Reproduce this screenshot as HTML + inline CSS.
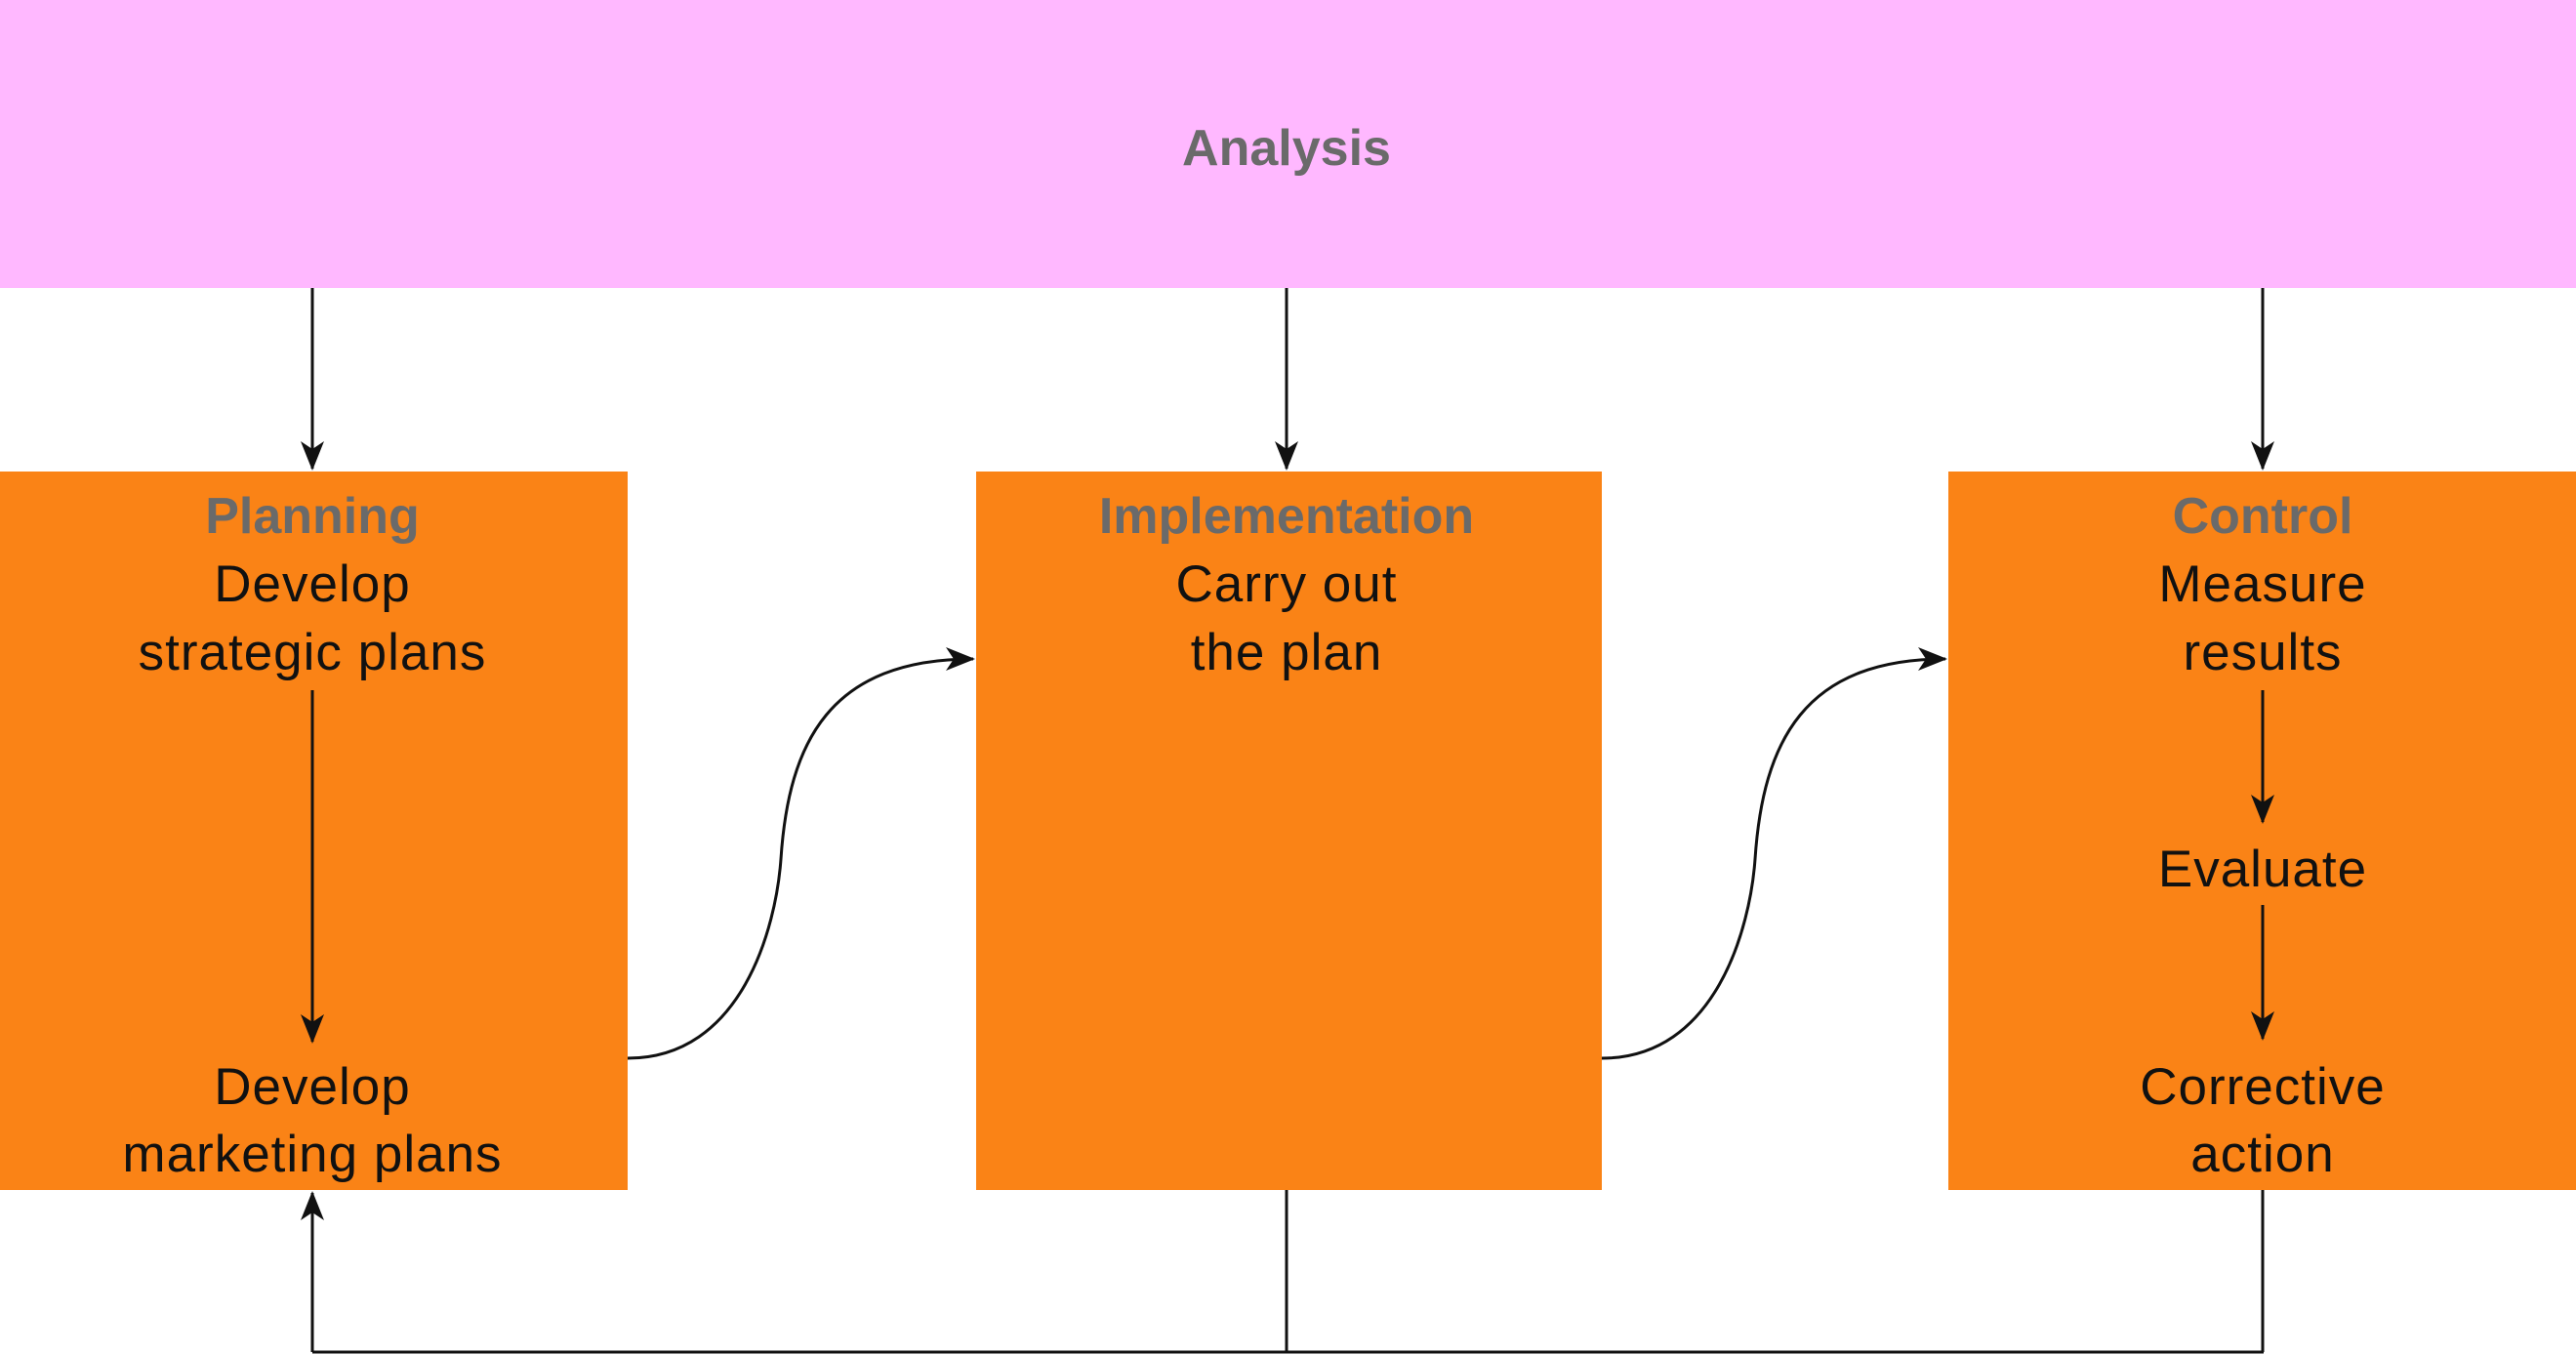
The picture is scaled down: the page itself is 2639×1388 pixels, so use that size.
<!DOCTYPE html>
<html><head><meta charset="utf-8"><style>
html,body{margin:0;padding:0;background:#fff;}
svg{display:block}
text{font-family:"Liberation Sans",sans-serif;text-anchor:middle;}
.t{font-weight:bold;fill:#6a6a6a;font-size:52px}
.b{fill:#111;font-size:53px;letter-spacing:1px}
</style></head><body>
<svg width="2639" height="1388" viewBox="0 0 2639 1388" xmlns="http://www.w3.org/2000/svg">
<defs>
<marker id="a2" markerWidth="30" markerHeight="24" refX="28" refY="12" orient="auto" markerUnits="userSpaceOnUse"><path d="M0,0 L30,12 L0,24 L8,12 Z" fill="#111"/></marker></defs>
<rect x="0" y="0" width="2639" height="295" fill="#FFB8FF"/>
<text x="1318" y="169" class="t">Analysis</text>
<rect x="0" y="483" width="643" height="736" fill="#FA8316"/>
<rect x="1000" y="483" width="641" height="736" fill="#FA8316"/>
<rect x="1996" y="483" width="643" height="736" fill="#FA8316"/>
<g stroke="#111" stroke-width="3" fill="none">
<line x1="320" y1="295" x2="320" y2="480" marker-end="url(#a2)"/>
<line x1="1318" y1="295" x2="1318" y2="480" marker-end="url(#a2)"/>
<line x1="2318" y1="295" x2="2318" y2="480" marker-end="url(#a2)"/>
<line x1="320" y1="707" x2="320" y2="1067" marker-end="url(#a2)"/>
<line x1="2318" y1="707" x2="2318" y2="842" marker-end="url(#a2)"/>
<line x1="2318" y1="927" x2="2318" y2="1064" marker-end="url(#a2)"/>
<path d="M643,1084 C760,1084 795,950 800,880 C808,760 850,675 997,675" marker-end="url(#a2)"/>
<path d="M1641,1084 C1758,1084 1793,950 1798,880 C1806,760 1848,675 1993,675" marker-end="url(#a2)"/>
<line x1="1318" y1="1219" x2="1318" y2="1385"/>
<line x1="2318" y1="1219" x2="2318" y2="1385"/>
<line x1="320" y1="1385" x2="2319" y2="1385"/>
<line x1="320" y1="1385" x2="320" y2="1222" marker-end="url(#a2)"/>
</g>
<text x="320" y="546" class="t">Planning</text>
<text x="320" y="616" class="b">Develop</text>
<text x="320" y="686" class="b">strategic plans</text>
<text x="320" y="1131" class="b">Develop</text>
<text x="320" y="1200" class="b">marketing plans</text>
<text x="1318" y="546" class="t">Implementation</text>
<text x="1318" y="616" class="b">Carry out</text>
<text x="1318" y="686" class="b">the plan</text>
<text x="2318" y="546" class="t">Control</text>
<text x="2318" y="616" class="b">Measure</text>
<text x="2318" y="686" class="b">results</text>
<text x="2318" y="908" class="b">Evaluate</text>
<text x="2318" y="1131" class="b">Corrective</text>
<text x="2318" y="1200" class="b">action</text>
</svg>
</body></html>
